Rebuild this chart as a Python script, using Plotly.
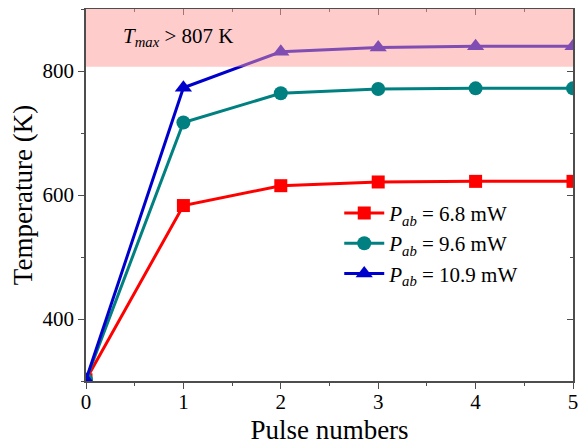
import plotly.graph_objects as go

pulses = [0, 1, 2, 3, 4, 5]
temp_68 = [302, 583, 615, 621, 622, 622]
temp_96 = [302, 717, 764, 771, 772, 772]
temp_109 = [302, 773, 831, 838, 840, 840]
series_names = ["<i>P</i><sub><i>ab</i></sub> = 6.8 mW",
                "<i>P</i><sub><i>ab</i></sub> = 9.6 mW",
                "<i>P</i><sub><i>ab</i></sub> = 10.9 mW"]
tmax_threshold = 807
y_top = 900

FONT = "Liberation Serif"
AX = "#4d4d4d"

fig = go.Figure()
styles = [
    (temp_68, "#ff0000", "square", 13),
    (temp_96, "#008080", "circle", 14),
    (temp_109, "#0000cd", "triangle-up", 15),
]
for (vals, col, sym, sz), name in zip(styles, series_names):
    fig.add_trace(go.Scatter(
        x=pulses, y=vals, mode="lines+markers", name=name,
        line=dict(color=col, width=3),
        marker=dict(color=col, symbol=sym, size=sz),
    ))

# dummy trace to anchor mirrored axes
fig.add_trace(go.Scatter(x=[0], y=[300], xaxis="x2", yaxis="y2",
                         mode="markers", marker=dict(opacity=0),
                         showlegend=False, hoverinfo="skip"))

fig.add_shape(type="rect", xref="x", yref="y", x0=0, x1=5,
              y0=tmax_threshold, y1=y_top, layer="above",
              fillcolor="rgb(255,153,153)", opacity=0.5, line=dict(width=0))

fig.add_annotation(x=0.94, y=855, xref="x", yref="y", showarrow=False,
                   text="<i>T</i><sub><i>max</i></sub> > 807 K",
                   font=dict(family=FONT, size=21, color="black"))

tf = dict(family=FONT, size=21, color="black")
ttl = dict(family=FONT, size=27, color="black")

fig.update_layout(
    width=578, height=437,
    margin=dict(l=78, r=13, t=1, b=64),
    paper_bgcolor="white", plot_bgcolor="white",
    font=dict(family=FONT, size=21, color="black"),
    showlegend=True,
    legend=dict(x=0.52, y=0.506, xanchor="left", yanchor="top",
                bgcolor="rgba(0,0,0,0)", font=tf,
                itemwidth=40, tracegroupgap=0),
    xaxis=dict(range=[0, 5], tickvals=pulses, ticks="outside", ticklen=6,
               tickcolor=AX, showline=True, linecolor=AX, linewidth=1.5,
               showgrid=False, zeroline=False, automargin=False,
               ticklabelstandoff=-5,
               minor=dict(dtick=0.5, ticks="outside", ticklen=3, tickcolor=AX),
               title=dict(text="Pulse numbers", font=ttl),
               tickfont=tf),
    yaxis=dict(range=[300, y_top], tickvals=[400, 600, 800], ticks="outside",
               ticklen=6, tickcolor=AX, showline=True, linecolor=AX, linewidth=1.5,
               showgrid=False, zeroline=False, automargin=False,
               minor=dict(dtick=100, tick0=300, ticks="outside", ticklen=3, tickcolor=AX),
               title=dict(text="Temperature (K)", font=ttl),
               tickfont=tf),
    xaxis2=dict(range=[0, 5], overlaying="x", side="top", anchor="y",
                tickvals=pulses, ticks="inside", ticklen=6, tickcolor=AX,
                showticklabels=False, showline=True, linecolor=AX, linewidth=1.5,
                showgrid=False, zeroline=False, automargin=False,
                minor=dict(dtick=0.5, ticks="inside", ticklen=3, tickcolor=AX)),
    yaxis2=dict(range=[300, y_top], overlaying="y", side="right", anchor="x",
                tickvals=[400, 600, 800], ticks="inside", ticklen=6, tickcolor=AX,
                showticklabels=False, showline=True, linecolor=AX, linewidth=1.5,
                showgrid=False, zeroline=False, automargin=False,
                minor=dict(dtick=100, tick0=300, ticks="inside", ticklen=3, tickcolor=AX)),
)

fig.write_html("out.html")
